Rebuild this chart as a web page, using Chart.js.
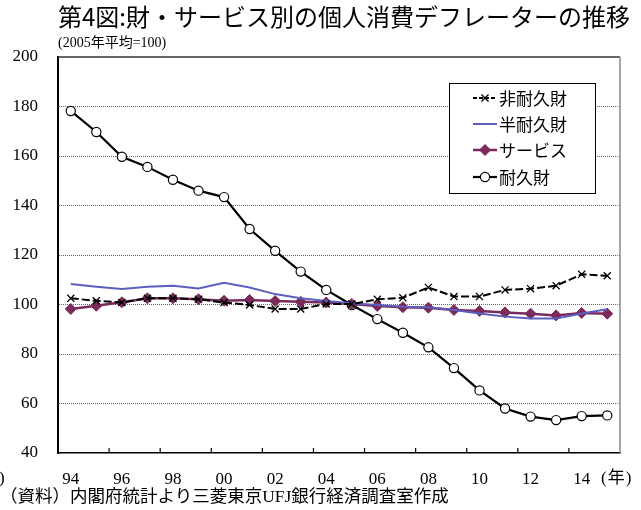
<!DOCTYPE html>
<html>
<head>
<meta charset="utf-8">
<script src="https://cdn.jsdelivr.net/npm/chart.js@4.4.1/dist/chart.umd.min.js"></script>
<style>
  html, body { margin: 0; padding: 0; background: #fff; }
  #wrap { position: relative; width: 641px; height: 510px; overflow: hidden; }
  canvas { position: absolute; left: 0; top: 0; }
  .t { position: absolute; white-space: nowrap; color: #000; }
  #title { left: 58px; top: 4px; font: 24px/24px 'Noto Sans CJK JP', sans-serif; }
  #sub { left: 58px; top: 36px; font: 14px/14px 'Liberation Serif', 'Noto Sans CJK JP', serif; }
  #src { left: 0px; top: 488px; font: 17.5px/17.5px 'Liberation Serif', 'Noto Sans CJK JP', serif; }
  #nen { left: 601px; top: 469px; font: 17px/17px 'Liberation Serif', 'Noto Sans CJK JP', serif; letter-spacing: 1px; }
  #cut { left: -1px; top: 469px; font: 17px/17px 'Liberation Serif', serif; }
</style>
</head>
<body>
<div id="wrap">
  <canvas id="c" width="641" height="510"></canvas>
  <div class="t" id="title">第4図:財・サービス別の個人消費デフレーターの推移</div>
  <div class="t" id="sub">(2005年平均=100)</div>
  <div class="t" id="nen">(年)</div>
  <div class="t" id="cut">)</div>
  <div class="t" id="src">（資料）内閣府統計より三菱東京UFJ銀行経済調査室作成</div>
</div>
<script>
// ---- data ----
const categories = ['94','95','96','97','98','99','00','01','02','03','04','05','06','07','08','09','10','11','12','13','14','15'];
const seriesNames = ['非耐久財', '半耐久財', 'サービス', '耐久財'];
const nondurable = [102.5, 101.5, 100.8, 102.5, 102.5, 102.1, 100.8, 99.8, 98.2, 98.2, 100.2, 100.2, 102.1, 102.7, 106.9, 103.2, 103.2, 105.9, 106.4, 107.6, 112.2, 111.6];
const semidurable = [108.3, 107.2, 106.3, 107.2, 107.6, 106.5, 108.8, 106.9, 104.2, 102.5, 101.4, 100.5, 99.8, 99.1, 98.9, 97.8, 96.4, 95.1, 94.3, 94.3, 96.4, 98.1];
const services = [98.2, 99.5, 100.9, 102.5, 102.5, 102.1, 101.5, 101.8, 101.4, 101.1, 100.8, 100.2, 99.4, 98.9, 98.7, 97.8, 97.4, 96.8, 96.3, 95.6, 96.6, 96.3];
const durable = [178.2, 169.7, 159.7, 155.6, 150.4, 146.0, 143.4, 130.5, 121.7, 113.3, 105.9, 99.8, 94.1, 88.6, 82.7, 74.3, 65.3, 58.0, 54.7, 53.3, 54.9, 55.2];
const yMin = 40, yMax = 200, yStep = 20;

const serif = "'Liberation Serif', 'Times New Roman', serif";
const gothic = "'Noto Sans CJK JP', sans-serif";

// Frame, inner x ticks
const framePlugin = {
  id: 'frame',
  afterDatasetsDraw(chart) {
    const {ctx, chartArea: a, scales} = chart;
    ctx.save();
    ctx.strokeStyle = '#333'; ctx.lineWidth = 1.5;
    ctx.beginPath(); ctx.moveTo(a.left, a.top); ctx.lineTo(a.right, a.top); ctx.stroke();
    ctx.strokeStyle = '#8a8a8a'; ctx.lineWidth = 1.5;
    ctx.beginPath(); ctx.moveTo(a.right, a.top); ctx.lineTo(a.right, a.bottom); ctx.stroke();
    const xs = scales.x;
    ctx.strokeStyle = '#000'; ctx.lineWidth = 1.2;
    for (let i = 2; i < categories.length; i += 2) {
      const px = (xs.getPixelForValue(i - 1) + xs.getPixelForValue(i)) / 2;
      ctx.beginPath(); ctx.moveTo(px, a.bottom); ctx.lineTo(px, a.bottom - 5); ctx.stroke();
    }
    ctx.restore();
  }
};

// Boxed legend inside the plot
const legendPlugin = {
  id: 'boxLegend',
  afterDraw(chart) {
    const {ctx} = chart;
    const bx = 449, by = 83, bw = 146, bh = 110;
    ctx.save();
    ctx.fillStyle = '#fff';
    ctx.fillRect(bx, by, bw, bh);
    ctx.strokeStyle = '#000'; ctx.lineWidth = 1;
    ctx.strokeRect(bx + 0.5, by + 0.5, bw, bh);
    const rows = [98, 124, 150, 177];
    chart.data.datasets.forEach((ds, i) => {
      const y = rows[i];
      const x0 = 473, x1 = 497;
      ctx.save();
      ctx.strokeStyle = ds.borderColor;
      ctx.lineWidth = ds.borderWidth;
      ctx.setLineDash(ds.borderDash ? [4, 2] : []);
      ctx.beginPath(); ctx.moveTo(x0, y); ctx.lineTo(x1, y); ctx.stroke();
      ctx.restore();
      if (ds.pointRadius > 0) {
        ctx.save();
        ctx.fillStyle = ds.pointBackgroundColor;
        ctx.strokeStyle = ds.pointBorderColor;
        ctx.lineWidth = ds.pointBorderWidth;
        Chart.helpers.drawPoint(ctx, {pointStyle: ds.pointStyle, radius: ds.pointRadius, borderWidth: ds.pointBorderWidth, rotation: 0}, (x0 + x1) / 2, y);
        ctx.restore();
      }
      ctx.fillStyle = '#000';
      ctx.font = '17px ' + gothic;
      ctx.textBaseline = 'middle';
      ctx.textAlign = 'left';
      ctx.fillText(ds.label, 499, y + 1);
    });
    ctx.restore();
  }
};

new Chart(document.getElementById('c'), {
  type: 'line',
  data: {
    labels: categories,
    datasets: [
      { label: seriesNames[0], data: nondurable, borderColor: '#000', borderWidth: 2, borderDash: [8, 3],
        pointStyle: 'crossRot', pointRadius: 5, pointBorderWidth: 1.3, pointBorderColor: '#000', pointBackgroundColor: '#000' },
      { label: seriesNames[1], data: semidurable, borderColor: '#5b5fc0', borderWidth: 2,
        pointRadius: 0, pointBorderWidth: 0, pointBorderColor: '#5b5fc0', pointBackgroundColor: '#5b5fc0' },
      { label: seriesNames[2], data: services, borderColor: '#7a2b5c', borderWidth: 2.5,
        pointStyle: 'rectRot', pointRadius: 5.5, pointBorderWidth: 1, pointBorderColor: '#7a2b5c', pointBackgroundColor: '#7a2b5c' },
      { label: seriesNames[3], data: durable, borderColor: '#000', borderWidth: 2.2,
        pointStyle: 'circle', pointRadius: 4.6, pointBorderWidth: 1.2, pointBorderColor: '#000', pointBackgroundColor: '#fff' }
    ]
  },
  options: {
    responsive: false,
    animation: false,
    devicePixelRatio: 1,
    layout: { padding: { left: 0, right: 21, top: 57, bottom: 0 } },
    plugins: { legend: { display: false }, tooltip: { enabled: false }, title: { display: false } },
    elements: { line: { tension: 0 } },
    scales: {
      x: {
        type: 'category',
        offset: true,
        grid: { display: false, drawTicks: false },
        border: { display: true, color: '#000', width: 1.5 },
        ticks: {
          autoSkip: false, maxRotation: 0, minRotation: 0, padding: 16,
          color: '#000', font: { family: serif, size: 17 },
          callback: (v, i) => (i % 2 === 0 ? categories[i] : '')
        },
        afterFit: (s) => { s.height = 57; }
      },
      y: {
        min: yMin, max: yMax,
        grid: {
          drawTicks: false,
          lineWidth: 1,
          color: (c) => (c.tick && (c.tick.value === yMin || c.tick.value === yMax)) ? 'rgba(0,0,0,0)' : '#666'
        },
        border: { display: true, color: '#000', width: 2, dash: [1, 1] },
        ticks: { stepSize: yStep, padding: 20, color: '#000', font: { family: serif, size: 17 } },
        afterFit: (s) => { s.width = 58; }
      }
    }
  },
  plugins: [framePlugin, legendPlugin]
});
</script>
</body>
</html>
